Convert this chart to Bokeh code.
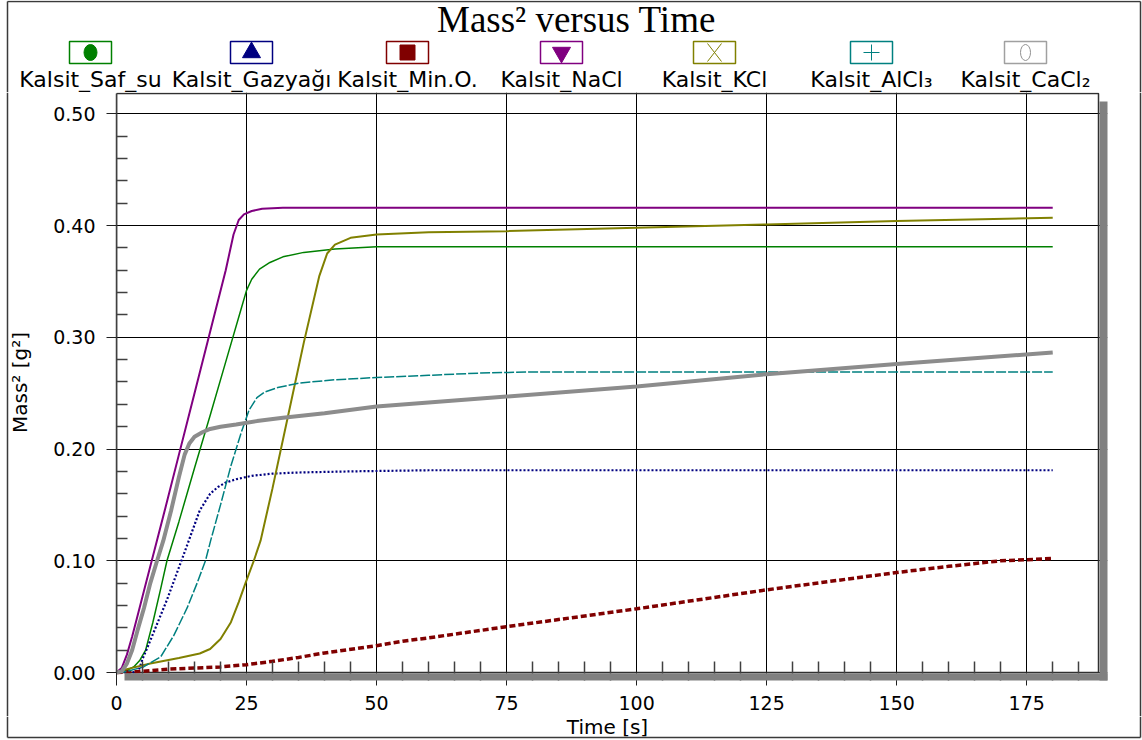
import math

from bokeh.plotting import figure
from bokeh.layouts import column, row
from bokeh.models import Range1d, FixedTicker, NumeralTickFormatter
from bokeh.core.properties import value
from bokeh.embed import file_html
from bokeh.resources import INLINE

# ---- data: time [s] and mass squared [g^2] for each calcite sample ----
saf_su_t = [0, 2, 3.3, 4.5, 5.6, 7, 8.5, 9.7, 12, 15, 18, 21, 24, 25, 26, 27.5,
            29.5, 32, 36, 42, 50, 70, 100, 140, 180]
saf_su_m = [0, 0.002, 0.005, 0.011, 0.02, 0.045, 0.075, 0.10, 0.135, 0.183, 0.23,
            0.278, 0.326, 0.342, 0.352, 0.361, 0.367, 0.372, 0.376, 0.379, 0.381,
            0.381, 0.381, 0.381, 0.381]

gazyagi_t = [0, 3, 4.2, 5, 6, 7.5, 9.7, 12, 13.9, 16, 18, 19.5, 21, 23, 26, 30,
             35, 45, 60, 90, 120, 150, 180]
gazyagi_m = [0, 0, 0.001, 0.012, 0.023, 0.04, 0.065, 0.094, 0.118, 0.145, 0.16,
             0.166, 0.17, 0.173, 0.176, 0.178, 0.179, 0.18, 0.181, 0.181, 0.181,
             0.181, 0.181]

min_o_t = [0, 5, 10, 15, 20, 25, 30, 35, 40, 50, 55, 60, 75, 100, 125, 150, 160,
           170, 175, 180]
min_o_m = [0, 0.001, 0.003, 0.004, 0.005, 0.007, 0.01, 0.0135, 0.0175, 0.024, 0.028,
           0.031, 0.041, 0.057, 0.074, 0.0895, 0.095, 0.1, 0.101, 0.102]

nacl_t = [0, 1, 2, 3, 4, 5, 6.5, 9, 12, 15, 18, 21, 22.5, 23.5, 24.5, 26, 28, 32,
          40, 60, 90, 120, 150, 180]
nacl_m = [0, 0.004, 0.016, 0.032, 0.05, 0.068, 0.095, 0.14, 0.195, 0.25, 0.305,
          0.36, 0.392, 0.405, 0.41, 0.413, 0.415, 0.416, 0.416, 0.416, 0.416,
          0.416, 0.416, 0.416]

kcl_t = [0, 2, 6.5, 12, 16, 18, 20, 22, 23.5, 24.8, 26.4, 27.7, 30, 33, 36, 39,
         40.5, 42, 45, 50, 60, 75, 100, 125, 150, 180]
kcl_m = [0, 0.003, 0.008, 0.013, 0.017, 0.021, 0.03, 0.045, 0.063, 0.08, 0.10,
         0.118, 0.165, 0.23, 0.295, 0.355, 0.375, 0.383, 0.389, 0.392, 0.394,
         0.395, 0.398, 0.401, 0.404, 0.407]

alcl3_t = [0, 2, 5.2, 8.5, 11, 13.6, 15.5, 17.1, 18.1, 20, 22, 24, 25.5, 27, 28.5,
           31, 35, 42, 50, 60, 70, 80, 100, 130, 160, 180]
alcl3_m = [0, 0.001, 0.005, 0.014, 0.033, 0.058, 0.08, 0.10, 0.118, 0.15, 0.185,
           0.215, 0.235, 0.246, 0.251, 0.255, 0.259, 0.262, 0.264, 0.266, 0.268,
           0.269, 0.269, 0.269, 0.269, 0.269]

cacl2_t = [0, 1, 2, 3, 4, 5.3, 6.5, 7.8, 9, 10.5, 12, 13.1, 14, 15, 16.5, 18, 20,
           23, 27, 32, 40, 50, 75, 100, 125, 150, 180]
cacl2_m = [0, 0.001, 0.008, 0.02, 0.037, 0.058, 0.08, 0.10, 0.118, 0.145, 0.175,
           0.195, 0.205, 0.211, 0.215, 0.218, 0.22, 0.222, 0.225, 0.228, 0.232,
           0.238, 0.247, 0.256, 0.267, 0.276, 0.2865]

x_ticks = [0, 25, 50, 75, 100, 125, 150, 175]
y_ticks = [0.0, 0.1, 0.2, 0.3, 0.4, 0.5]

names = ["Kalsit_Saf_su", "Kalsit_Gazyağı", "Kalsit_Min.O.", "Kalsit_NaCl",
         "Kalsit_KCl", "Kalsit_AlCl\u2083", "Kalsit_CaCl\u2082"]
times = [saf_su_t, gazyagi_t, min_o_t, nacl_t, kcl_t, alcl3_t, cacl2_t]
masses = [saf_su_m, gazyagi_m, min_o_m, nacl_m, kcl_m, alcl3_m, cacl2_m]

# ---- styles ----
colors = ["#008000", "#000080", "#800000", "#800080", "#808000", "#008080", "#8c8c8c"]
box_colors = ["#008000", "#000080", "#800000", "#800080", "#808000", "#008080", "#a0a0a0"]
widths = [1.5, 2.2, 3.5, 2.0, 2.0, 1.5, 4.0]
dashes = ["solid", "2 2", "6 3", "solid", "solid", "10 2", "solid"]

W, H = 1142, 740
HEAD_H = 92            # header band with title and legend
MAIN_BOTTOM = 716      # page row where the plot figure ends
LEFT_W, RIGHT_W = 36, 9  # left band also carries the y axis title
MAIN_W = W - LEFT_W - RIGHT_W
MAIN_H = MAIN_BOTTOM - HEAD_H
BOT_H = H - MAIN_BOTTOM  # band with the x axis title and bottom page rule
EDGE_L, EDGE_R, EDGE_T, EDGE_B = 7, 1140, 1, 737   # page rule position
RULE = dict(line_color="#3a3a3a", line_width=1.5)
FONT = value("DejaVu Sans")

# plot box in page pixels and its data extent
BOX_L, BOX_R, BOX_T, BOX_B = 116, 1098, 93, 672
SHADOW = 8
X_MAX = 188.8
Y_MAX = 0.5182
px_x = (BOX_R - BOX_L) / X_MAX
px_y = (BOX_B - 113.3) / 0.5
X_END = X_MAX + (SHADOW + 1) / px_x
Y_START = -SHADOW / px_y
Y_END = Y_MAX + (BOX_T - HEAD_H) / px_y


def band(width, height):
    f = figure(width=width, height=height, output_backend="svg",
               toolbar_location=None, title=None,
               x_range=Range1d(0, width), y_range=Range1d(height, 0),
               x_axis_location=None, y_axis_location=None,
               min_border=0, outline_line_color=None,
               background_fill_color="white", border_fill_color="white")
    f.grid.visible = False
    return f


# ---- header: title and legend row ----
head = band(W, HEAD_H)
head.segment(x0=[EDGE_L, EDGE_L, EDGE_R], y0=[EDGE_T, EDGE_T, EDGE_T],
             x1=[EDGE_R, EDGE_L, EDGE_R], y1=[EDGE_T, HEAD_H, HEAD_H], **RULE)
head.text(x=[576], y=[19], text=["Mass\u00B2 versus Time"],
          text_font=value("Liberation Serif"), text_font_size="37px",
          text_align="center", text_baseline="middle", text_color="black")

entry_x = [90, 251, 407, 561, 714, 871, 1025]
head.quad(left=[c - 21 for c in entry_x], right=[c + 21 for c in entry_x],
          top=[41] * 7, bottom=[63] * 7, fill_color=None,
          line_color=box_colors, line_width=1.5)
head.ellipse(x=[entry_x[0]], y=[52], width=13, height=16, color=colors[0])
head.scatter(x=[entry_x[1]], y=[52], marker="triangle", size=18,
             color=colors[1])
head.scatter(x=[entry_x[2]], y=[52], marker="square", size=15,
             color=colors[2])
head.scatter(x=[entry_x[3]], y=[52], marker="inverted_triangle", size=18,
             color=colors[3])
head.segment(x0=[entry_x[4] - 7, entry_x[4] - 7], y0=[43, 61],
             x1=[entry_x[4] + 7, entry_x[4] + 7], y1=[61, 43],
             line_color=colors[4], line_width=1)
head.scatter(x=[entry_x[5]], y=[52], marker="cross", size=16, line_width=1,
             line_color=colors[5])
head.ellipse(x=[entry_x[6]], y=[52], width=10, height=16, fill_color=None,
             line_color="#909090", line_width=1)
head.text(x=entry_x, y=[79] * 7, text=names, text_font=FONT,
          text_font_size="22px", text_align="center", text_baseline="middle",
          text_color="black")

# ---- main plot ----
p = figure(width=MAIN_W, height=MAIN_H, output_backend="svg",
           toolbar_location=None, title=None,
           x_range=Range1d(0, X_END), y_range=Range1d(Y_START, Y_END),
           min_border_left=BOX_L - LEFT_W,
           min_border_right=MAIN_W - (BOX_R + SHADOW + 1 - LEFT_W),
           min_border_top=0,
           min_border_bottom=MAIN_BOTTOM - (BOX_B + SHADOW),
           outline_line_color=None,
           background_fill_color="white", border_fill_color="white")

p.xaxis.ticker = FixedTicker(ticks=x_ticks,
                             minor_ticks=[v for v in range(5, 190, 5) if v % 25])
p.yaxis.ticker = FixedTicker(ticks=y_ticks,
                             minor_ticks=[0.02, 0.04, 0.06, 0.08, 0.12, 0.14, 0.16,
                                          0.18, 0.22, 0.24, 0.26, 0.28, 0.32, 0.34,
                                          0.36, 0.38, 0.42, 0.44, 0.46, 0.48])
p.yaxis.formatter = NumeralTickFormatter(format="0.00")
p.xaxis.bounds = (0, X_MAX)
p.yaxis.bounds = (0, Y_MAX)

for ax in (p.xaxis[0], p.yaxis[0]):
    ax.major_tick_line_color = "#202020"
    ax.minor_tick_line_color = "#404040"
    ax.minor_tick_line_width = 1.5
    ax.minor_tick_out = 0
    ax.major_label_text_font = "DejaVu Sans"
    ax.major_label_text_font_size = "19px"
    ax.major_label_text_color = "black"

# y axis sits on the box edge
p.yaxis.axis_line_color = "#404040"
p.yaxis.axis_line_width = 1.5
p.yaxis.major_tick_out = 10
p.yaxis.major_tick_in = 0
p.yaxis.minor_tick_in = 11
p.yaxis.major_label_standoff = 11

# x axis sits under the shadow band; ticks reach up to the box edge
p.xaxis.axis_line_color = None
p.xaxis.major_tick_in = SHADOW
p.xaxis.major_tick_out = 5
p.xaxis.minor_tick_in = SHADOW + 11
p.xaxis.major_label_standoff = 10

p.xgrid.grid_line_color = "black"
p.ygrid.grid_line_color = "black"
p.xgrid.grid_line_width = 1
p.ygrid.grid_line_width = 1

# plot box outline
p.quad(left=[0], right=[X_MAX], bottom=[0], top=[Y_MAX], fill_color=None,
       line_color="#303030", line_width=1.5)

# curves
for t, m, c, lw, dash in zip(times, masses, colors, widths, dashes):
    p.line(t, m, line_color=c, line_width=lw, line_dash=dash)

# drop shadow on the right and bottom of the box
p.quad(left=[X_MAX + 1 / px_x, SHADOW / px_x],
       right=[X_END, X_END],
       top=[Y_MAX - SHADOW / px_y, -0.8 / px_y],
       bottom=[Y_START, Y_START],
       fill_color="#808080", line_color=None, level="overlay")

# ---- page rule around everything, axis titles ----
left = band(LEFT_W, MAIN_H)
left.segment(x0=[EDGE_L], y0=[0], x1=[EDGE_L], y1=[MAIN_H], **RULE)
left.text(x=[19], y=[382 - HEAD_H], text=["Mass\u00B2 [g\u00B2]"], angle=math.pi / 2,
          text_font=FONT, text_font_size="20px", text_align="center",
          text_baseline="middle", text_color="black")

right = band(RIGHT_W, MAIN_H)
rx = EDGE_R - (W - RIGHT_W)
right.segment(x0=[rx], y0=[0], x1=[rx], y1=[MAIN_H], **RULE)

bottom = band(W, BOT_H)
by = EDGE_B - MAIN_BOTTOM
bottom.segment(x0=[EDGE_L, EDGE_L, EDGE_R], y0=[by, 0, 0],
               x1=[EDGE_R, EDGE_L, EDGE_R], y1=[by, by, by], **RULE)
bottom.text(x=[(BOX_L + BOX_R) / 2], y=[726 - MAIN_BOTTOM], text=["Time [s]"],
            text_font=FONT, text_font_size="20px", text_align="center",
            text_baseline="middle", text_color="black")

# side bands sit in their own columns so their frames keep the full height
page = column(head, row(column(left), p, column(right)), bottom)

open("out.html", "w").write(file_html(page, INLINE))
